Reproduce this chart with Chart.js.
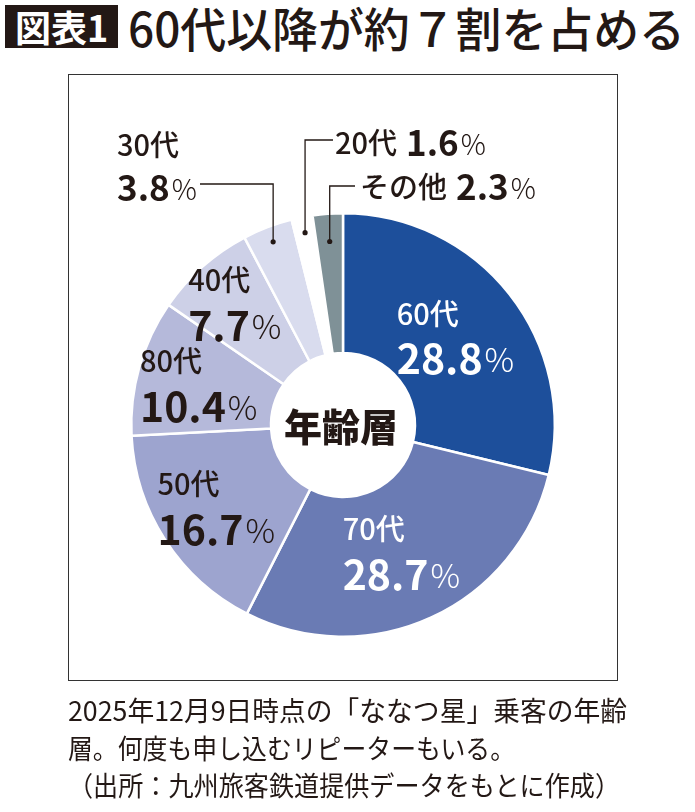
<!DOCTYPE html>
<html lang="ja">
<head>
<meta charset="utf-8">
<script src="https://cdn.jsdelivr.net/npm/chart.js@4"></script>
<style>
html, body { margin: 0; padding: 0; background: #fff; }
body { width: 695px; height: 812px; position: relative; overflow: hidden;
       font-family: "Noto Sans CJK JP", "Noto Sans", sans-serif; color: #231815; }
#tag { position: absolute; left: 5px; top: 5px; width: 113px; height: 43px; background: #231815;
       color: #fff; font-weight: 700; font-size: 36px; line-height: 43px; text-align: center; }
#title { position: absolute; left: 128px; top: 0; font-size: 47px; line-height: 54px; font-weight: 500;
         white-space: nowrap; transform-origin: 0 0; }
#frame { position: absolute; left: 68px; top: 74px; width: 548px; height: 605px; border: 1.5px solid #333; }
#chartCanvas { position: absolute; left: 0; top: 0; }
.note { position: absolute; left: 68px; font-size: 27px; line-height: 36px; white-space: nowrap; transform-origin: 0 0; }
</style>
</head>
<body>
<div id="tag">図表1</div>
<div id="title">60代以降が約７割を占める</div>
<div id="frame"></div>
<canvas id="chartCanvas" width="695" height="812"></canvas>
<div class="note" id="note1" style="top:692px">2025年12月9日時点の「ななつ星」乗客の年齢</div>
<div class="note" id="note2" style="top:730px">層。何度も申し込むリピーターもいる。</div>
<div class="note" id="note3" style="top:767px">（出所：九州旅客鉄道提供データをもとに作成）</div>
<script>
// data, clockwise from 12 o'clock
const ageGroups = ['60代', '70代', '50代', '80代', '40代', '30代', '20代', 'その他'];
const shares = [28.8, 28.7, 16.7, 10.4, 7.7, 3.8, 1.6, 2.3];
const centerLabel = '年齢層';

const sliceColors = ['#1d4f9b', '#6a7bb4', '#9da4cf', '#b5b9da', '#cdd0e7', '#d9dcee', '#ffffff', '#7f9197'];
const textDark = '#231815';

// label placement: 'in' = inside the slice at radius r, 'lead' = leader line to an outside label
// dx/dy for leaders are offsets from the doughnut centre
const labelLayout = [
  { mode: 'in', r: 143, color: '#fff' },
  { mode: 'in', r: 140, color: '#fff' },
  { mode: 'in', r: 151, color: textDark },
  { mode: 'in', r: 150, color: textDark },
  { mode: 'in', r: 163, color: textDark },
  { mode: 'lead', r: 196, twoLine: true, tx: -226, ty: -280, lineY: -241, lineX: -143 },
  { mode: 'lead', r: 196, twoLine: false, tx: -8, ty: -282, lineY: -285, lineX: -10 },
  { mode: 'lead', r: 184, twoLine: false, tx: 17, ty: -238, lineY: -239, lineX: 12 }
];

const FONT = '"Noto Sans CJK JP", "Noto Sans", sans-serif';

function drawValue(ctx, x, y, v, size, color) {
  ctx.fillStyle = color;
  ctx.textAlign = 'left';
  ctx.textBaseline = 'middle';
  ctx.font = '700 ' + size + 'px ' + FONT;
  const num = v.toFixed(1);
  ctx.fillText(num, x, y);
  const w = ctx.measureText(num).width;
  ctx.font = '300 ' + Math.round(size * 0.8) + 'px ' + FONT;
  ctx.fillText('%', x + w + 2, y + 1);
  return w + 2 + ctx.measureText('%').width;
}

function valueWidth(ctx, v, size) {
  ctx.font = '700 ' + size + 'px ' + FONT;
  const w = ctx.measureText(v.toFixed(1)).width;
  ctx.font = '300 ' + Math.round(size * 0.8) + 'px ' + FONT;
  return w + 2 + ctx.measureText('%').width;
}

const sliceLabels = {
  id: 'sliceLabels',
  afterDatasetsDraw(chart) {
    const ctx = chart.ctx;
    const meta = chart.getDatasetMeta(0);
    let cx = 0, cy = 0;
    ctx.save();
    meta.data.forEach((arc, i) => {
      const p = arc.getProps(['x', 'y', 'startAngle', 'endAngle'], true);
      cx = p.x; cy = p.y;
      const mid = (p.startAngle + p.endAngle) / 2;
      const lay = labelLayout[i];
      const name = ageGroups[i];
      const v = shares[i];
      if (lay.mode === 'in') {
        const ax = p.x + Math.cos(mid) * lay.r;
        const ay = p.y + Math.sin(mid) * lay.r;
        const vs = 41;
        const left = ax - valueWidth(ctx, v, vs) / 2;
        ctx.fillStyle = lay.color;
        ctx.font = '500 29px ' + FONT;
        ctx.textAlign = 'left';
        ctx.textBaseline = 'middle';
        ctx.fillText(name, left, ay - 23);
        drawValue(ctx, left, ay + 22, v, vs, lay.color);
      } else {
        const dx = p.x + Math.cos(mid) * lay.r;
        const dy = p.y + Math.sin(mid) * lay.r;
        // leader line
        ctx.strokeStyle = textDark;
        ctx.lineWidth = 1.3;
        ctx.beginPath();
        ctx.moveTo(dx, dy);
        ctx.lineTo(dx, p.y + lay.lineY);
        ctx.lineTo(p.x + lay.lineX, p.y + lay.lineY);
        ctx.stroke();
        ctx.fillStyle = textDark;
        ctx.beginPath();
        ctx.arc(dx, dy, 2.6, 0, Math.PI * 2);
        ctx.fill();
        const tx = p.x + lay.tx, ty = p.y + lay.ty;
        ctx.font = '500 29px ' + FONT;
        ctx.textAlign = 'left';
        ctx.textBaseline = 'middle';
        ctx.fillText(name, tx, ty);
        if (lay.twoLine) {
          drawValue(ctx, tx, ty + 43, v, 35, textDark);
        } else {
          const w = ctx.measureText(name).width;
          drawValue(ctx, tx + w + 9, ty, v, 35, textDark);
        }
      }
    });
    // centre text
    ctx.fillStyle = textDark;
    ctx.font = '900 38px ' + FONT;
    ctx.textAlign = 'center';
    ctx.textBaseline = 'middle';
    ctx.fillText(centerLabel, cx - 2, cy + 2);
    ctx.restore();
  }
};

function fitWidth(id, target) {
  const el = document.getElementById(id);
  const w = el.getBoundingClientRect().width;
  el.style.transform = 'scaleX(' + (target / w) + ')';
}

function build() {
  fitWidth('title', 557);
  fitWidth('note1', 559);
  fitWidth('note2', 447);
  fitWidth('note3', 552);

  new Chart(document.getElementById('chartCanvas').getContext('2d'), {
    type: 'doughnut',
    data: {
      labels: ageGroups,
      datasets: [{
        data: shares,
        backgroundColor: sliceColors,
        borderColor: '#ffffff',
        borderWidth: 2.5
      }]
    },
    options: {
      responsive: false,
      animation: false,
      cutout: '34%',
      layout: { padding: { left: 130, right: 139, top: 212, bottom: 174 } },
      plugins: { legend: { display: false }, tooltip: { enabled: false } }
    },
    plugins: [sliceLabels]
  });
}

if (document.fonts && document.fonts.ready) {
  document.fonts.ready.then(build);
} else {
  build();
}
</script>
</body>
</html>
